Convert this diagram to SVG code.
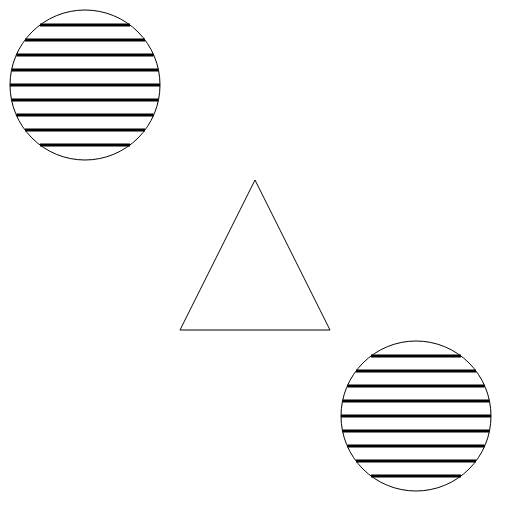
<svg xmlns="http://www.w3.org/2000/svg" width="512" height="512" viewBox="0 0 512 512">
<style>
.outline{fill:none;stroke:#000;stroke-width:1}
.stripe{stroke:#000;stroke-width:3}
</style>
<defs>
<g id="stripes">
<line class="stripe" x1="-45" y1="-60" x2="45" y2="-60"/>
<line class="stripe" x1="-60" y1="-45" x2="60" y2="-45"/>
<line class="stripe" x1="-68.7" y1="-30" x2="68.7" y2="-30"/>
<line class="stripe" x1="-73.5" y1="-15" x2="73.5" y2="-15"/>
<line class="stripe" x1="-75" y1="0" x2="75" y2="0"/>
<line class="stripe" x1="-73.5" y1="15" x2="73.5" y2="15"/>
<line class="stripe" x1="-68.7" y1="30" x2="68.7" y2="30"/>
<line class="stripe" x1="-60" y1="45" x2="60" y2="45"/>
<line class="stripe" x1="-45" y1="60" x2="45" y2="60"/>
</g>
</defs>
<rect width="512" height="512" fill="#fff"/>
<g id="circle1" transform="translate(85,85)">
<circle class="outline" cx="0" cy="0" r="75" fill="#fff"/>
<use href="#stripes"/>
</g>
<g id="triangle">
<polygon class="outline" points="255,180 180,330 330,330"/>
</g>
<g id="circle2" transform="translate(416,416)">
<circle class="outline" cx="0" cy="0" r="75"/>
<use href="#stripes"/>
</g>
<g id="connectors"></g>
</svg>
